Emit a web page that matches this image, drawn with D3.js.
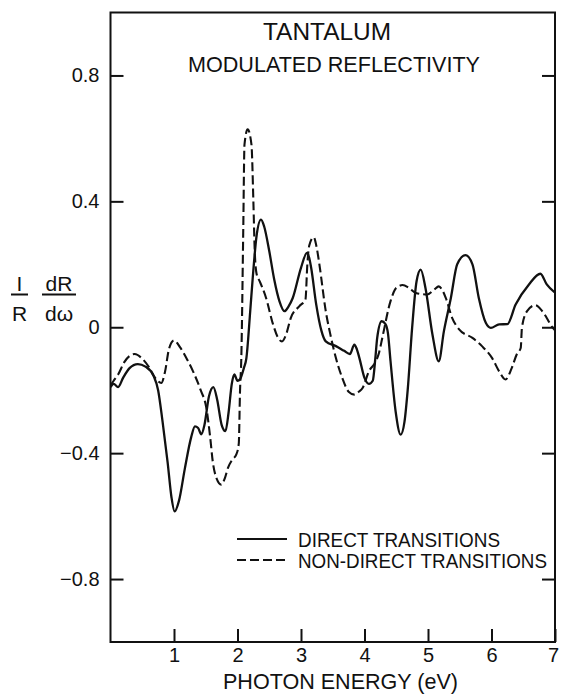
<!DOCTYPE html>
<html>
<head>
<meta charset="utf-8">
<script src="https://cdn.jsdelivr.net/npm/d3@7"></script>
<style>
  body { margin: 0; background: #fff; }
  svg { display: block; }
  text { font-family: "Liberation Sans", Arial, sans-serif; fill: #111; }
  .axis path.domain { display: none; }
  .axis line { stroke: #111; stroke-width: 2; }
  .axis text { font-size: 20px; }
</style>
</head>
<body>
<div id="chart"></div>
<script>

// photon energy (eV), 1/R dR/dw
var directTransitions = [
  [0, -0.19], [0.05, -0.18], [0.12, -0.19], [0.2, -0.16], [0.3, -0.13], [0.43, -0.117],
  [0.55, -0.125], [0.68, -0.155], [0.75, -0.2], [0.82, -0.3], [0.9, -0.43], [0.96, -0.54],
  [1.01, -0.585], [1.08, -0.55], [1.17, -0.45], [1.27, -0.35], [1.33, -0.315], [1.38, -0.32],
  [1.43, -0.34], [1.48, -0.31], [1.55, -0.22], [1.62, -0.19], [1.68, -0.23], [1.75, -0.31],
  [1.81, -0.33], [1.86, -0.27], [1.91, -0.18], [1.95, -0.15], [2.0, -0.17], [2.04, -0.165],
  [2.1, -0.13], [2.14, -0.098], [2.2, 0.05], [2.24, 0.157], [2.3, 0.29], [2.37, 0.342],
  [2.42, 0.32], [2.5, 0.242], [2.58, 0.15], [2.66, 0.083], [2.74, 0.051], [2.8, 0.065],
  [2.87, 0.093], [3.0, 0.189], [3.095, 0.236], [3.13, 0.22], [3.16, 0.189], [3.24, 0.072],
  [3.32, -0.01], [3.39, -0.045], [3.55, -0.06], [3.68, -0.075], [3.77, -0.085], [3.84, -0.055],
  [3.88, -0.07], [3.92, -0.098], [4.0, -0.161], [4.07, -0.18], [4.13, -0.17], [4.17, -0.1],
  [4.2, -0.034], [4.27, 0.019], [4.33, 0.01], [4.37, -0.02], [4.41, -0.108], [4.49, -0.267],
  [4.57, -0.341], [4.63, -0.3], [4.68, -0.2], [4.75, -0.002], [4.82, 0.146], [4.885, 0.183],
  [4.96, 0.125], [5.07, -0.023], [5.17, -0.108], [5.25, -0.013], [5.36, 0.093], [5.46, 0.2],
  [5.59, 0.229], [5.7, 0.2], [5.8, 0.093], [5.91, 0.014], [5.99, -0.002], [6.12, 0.009],
  [6.25, 0.01], [6.38, 0.072], [6.59, 0.136], [6.77, 0.17], [6.87, 0.136], [7.0, 0.11]
];

var nonDirectTransitions = [
  [0, -0.185], [0.05, -0.17], [0.12, -0.15], [0.22, -0.11], [0.38, -0.085], [0.5, -0.1],
  [0.6, -0.125], [0.7, -0.16], [0.8, -0.177], [0.86, -0.14], [0.92, -0.07], [1.0, -0.042],
  [1.1, -0.065], [1.2, -0.1], [1.3, -0.14], [1.42, -0.2], [1.51, -0.257], [1.57, -0.35],
  [1.61, -0.426], [1.67, -0.48], [1.745, -0.5], [1.8, -0.48], [1.85, -0.447], [1.92, -0.42],
  [1.98, -0.405], [2.02, -0.37], [2.04, -0.2], [2.06, -0.098], [2.09, 0.3], [2.11, 0.58],
  [2.16, 0.629], [2.22, 0.58], [2.25, 0.4], [2.27, 0.25], [2.3, 0.17], [2.35, 0.146],
  [2.45, 0.093], [2.56, 0.009], [2.63, -0.03], [2.7, -0.045], [2.77, -0.02], [2.84, 0.03],
  [2.975, 0.067], [3.07, 0.088], [3.1, 0.2], [3.13, 0.26], [3.2, 0.286], [3.25, 0.25],
  [3.29, 0.199], [3.39, 0.051], [3.47, -0.03], [3.55, -0.098], [3.65, -0.161], [3.75, -0.205],
  [3.84, -0.214], [3.91, -0.205], [3.97, -0.193], [4.07, -0.14], [4.18, -0.108], [4.23, -0.08],
  [4.28, -0.034], [4.41, 0.083], [4.5, 0.125], [4.6, 0.134], [4.7, 0.125], [4.81, 0.109],
  [4.99, 0.104], [5.1, 0.12], [5.17, 0.13], [5.22, 0.12], [5.28, 0.093], [5.38, 0.03],
  [5.49, -0.007], [5.7, -0.034], [5.85, -0.06], [6.01, -0.098], [6.12, -0.14], [6.22, -0.166],
  [6.32, -0.129], [6.4, -0.085], [6.46, -0.066], [6.48, 0.0], [6.56, 0.051], [6.69, 0.07],
  [6.8, 0.051], [6.96, 0.0], [7.0, -0.01]
];

var xTicks = [1, 2, 3, 4, 5, 6, 7];
var yTicks = [0.8, 0.4, 0, -0.4, -0.8];

var width = 561, height = 694;

var svg = d3.select("#chart").append("svg")
  .attr("width", width)
  .attr("height", height);

var x = d3.scaleLinear().domain([0, 7]).range([110.5, 555]);
var y = d3.scaleLinear().domain([-1, 1]).range([642, 12.5]);

var fmt = function(d) {
  return d === 0 ? "0" : d3.format(".1f")(d);
};

// left and right axes, ticks pointing inward
svg.append("g").attr("class", "axis")
  .attr("transform", "translate(" + x(0) + ",0)")
  .call(d3.axisLeft(y).tickValues(yTicks).tickFormat(fmt).tickSize(-13).tickPadding(11));

svg.append("g").attr("class", "axis")
  .attr("transform", "translate(" + x(7) + ",0)")
  .call(d3.axisRight(y).tickValues(yTicks).tickFormat("").tickSize(-13));

var xAxis = svg.append("g").attr("class", "axis")
  .attr("transform", "translate(0," + y(-1) + ")")
  .call(d3.axisBottom(x).tickValues(xTicks).tickFormat(d3.format("d")).tickSize(-13).tickPadding(6));

// last label sits a bit left of the corner, as in the print
xAxis.selectAll(".tick text").filter(function(d) { return d === 7; })
  .attr("dx", "-0.1em");

// frame
svg.append("rect")
  .attr("x", x(0))
  .attr("y", y(1))
  .attr("width", x(7) - x(0))
  .attr("height", y(-1) - y(1))
  .attr("fill", "none")
  .attr("stroke", "#111")
  .attr("stroke-width", 2);

svg.append("clipPath").attr("id", "plot")
  .append("rect")
  .attr("x", x(0)).attr("y", y(1))
  .attr("width", x(7) - x(0)).attr("height", y(-1) - y(1));

var line = d3.line()
  .x(function(d) { return x(d[0]); })
  .y(function(d) { return y(d[1]); })
  .curve(d3.curveMonotoneX);

var curves = svg.append("g").attr("clip-path", "url(#plot)");

curves.append("path")
  .datum(directTransitions)
  .attr("d", line)
  .attr("fill", "none")
  .attr("stroke", "#111")
  .attr("stroke-width", 2.3);

curves.append("path")
  .datum(nonDirectTransitions)
  .attr("d", line)
  .attr("fill", "none")
  .attr("stroke", "#111")
  .attr("stroke-width", 2.1)
  .attr("stroke-dasharray", "9,4");

// titles
svg.append("text")
  .attr("x", 327).attr("y", 40)
  .attr("text-anchor", "middle")
  .style("font-size", "23px")
  .attr("textLength", 128).attr("lengthAdjust", "spacingAndGlyphs")
  .text("TANTALUM");

svg.append("text")
  .attr("x", 334).attr("y", 71.5)
  .attr("text-anchor", "middle")
  .style("font-size", "22px")
  .attr("textLength", 292).attr("lengthAdjust", "spacingAndGlyphs")
  .text("MODULATED REFLECTIVITY");

svg.append("text")
  .attr("x", 340.5).attr("y", 689)
  .attr("text-anchor", "middle")
  .style("font-size", "22px")
  .attr("textLength", 235).attr("lengthAdjust", "spacingAndGlyphs")
  .text("PHOTON ENERGY (eV)");

// y label as two fractions
var ylab = svg.append("g").attr("class", "ylabel");
[["I", "R", 19.5, 11, 28], ["dR", "d\u03c9", 59, 42, 76]].forEach(function(f) {
  ylab.append("text").attr("x", f[2]).attr("y", 290.5)
    .attr("text-anchor", "middle").style("font-size", "21px").text(f[0]);
  ylab.append("line").attr("x1", f[3]).attr("x2", f[4])
    .attr("y1", 294.5).attr("y2", 294.5)
    .attr("stroke", "#111").attr("stroke-width", 2);
  ylab.append("text").attr("x", f[2]).attr("y", 320.5)
    .attr("text-anchor", "middle").style("font-size", "21px").text(f[1]);
});

// legend
var legend = svg.append("g");
var legendItems = [
  { label: "DIRECT TRANSITIONS", dash: null, len: 202 },
  { label: "NON-DIRECT TRANSITIONS", dash: "9,4", len: 249 }
];
legendItems.forEach(function(d, i) {
  var ly = 539 + i * 21;
  legend.append("line")
    .attr("x1", 237).attr("x2", 287)
    .attr("y1", ly).attr("y2", ly)
    .attr("stroke", "#111").attr("stroke-width", 2.2)
    .attr("stroke-dasharray", d.dash);
  legend.append("text")
    .attr("x", 298).attr("y", ly + 7.5)
    .style("font-size", "20px")
    .attr("textLength", d.len).attr("lengthAdjust", "spacingAndGlyphs")
    .text(d.label);
});

</script>
</body>
</html>
